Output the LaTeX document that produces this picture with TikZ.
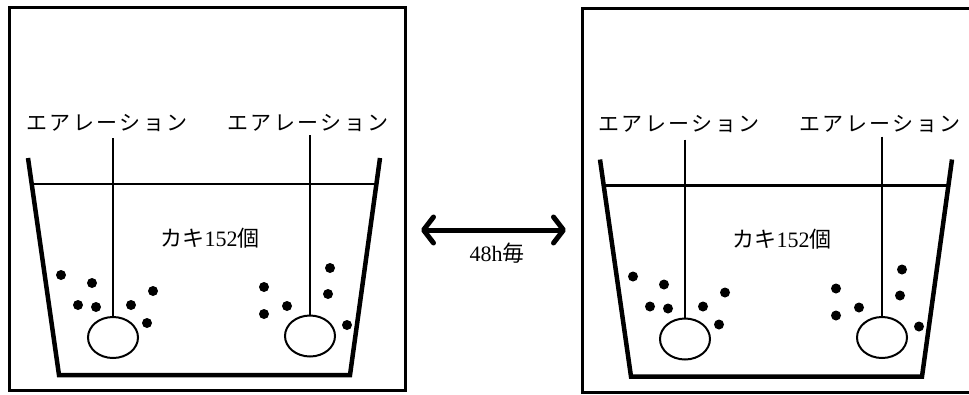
\documentclass[tikz,border=0pt]{standalone}
\usepackage{fontspec}
\setmainfont{Liberation Serif}
\newfontfamily\jp{Noto Sans CJK JP}
\newfontfamily\jpspaced[LetterSpace=12]{Noto Sans CJK JP}
\usetikzlibrary{arrows.meta,shapes.geometric}

\tikzset{
  frame/.style={line width=3pt},
  bucket/.style={line width=4.5pt, line join=miter},
  water/.style={line width=2.2pt},
  tube/.style={line width=2pt},
  stone/.style={draw, ellipse, line width=2pt, minimum width=50pt, minimum height=41pt, inner sep=0pt},
  bubble/.style={fill=black},
  tag/.style={font=\jpspaced\fontsize{21}{21}\selectfont, inner sep=0pt},
  count/.style={font=\fontsize{22}{22}\selectfont, inner sep=0pt},
  cycle/.style={line width=5pt, {Straight Barb[length=10pt,width=26pt,round]}-{Straight Barb[length=10pt,width=26pt,round]}},
}

% one tank: bucket, water level, two air stones with their tubes, oysters
\newcommand{\tank}{%
  \draw[bucket] (28,158) -- (59,375) -- (350,375) -- (380,158);
  \draw[water] (32,184) -- (376,184);
  \node[tag] (labL) at (107,123) {エアレーション};
  \node[tag] (labR) at (308,123) {エアレーション};
  \coordinate (tubeL) at (113,138);
  \coordinate (tubeR) at (310,135);
  \node[stone] (stoneL) at (113,337.5) {};
  \node[stone] (stoneR) at (310,336) {};
  \draw[tube] (tubeL) -- (stoneL.north);
  \draw[tube] (tubeR) -- (stoneR.north);
  \node[count] (oysters) at (210,238) {{\jp カキ}152{\jp 個}};
  \foreach \p in {(61,275),(92,283),(78,305),(96,307),(131,305),(153,291),(147,323),
                  (264,287),(330,268),(328,294),(287,306),(264,314),(347,325)}
    \fill[bubble] \p circle (5);
}

\begin{document}
\begin{tikzpicture}[x=1pt,y=-1pt]
  \useasboundingbox (0,0) rectangle (969,394);

  % left tank
  \draw[frame] (9.5,7) rectangle (405,390);
  \begin{scope}
    \tank
  \end{scope}

  % right tank (frame runs past the right edge)
  \draw[frame] (969,8.5) -- (582,8.5) -- (582,392) -- (969,392);
  \begin{scope}[xshift=572pt, yshift=-1.5pt]
    \tank
  \end{scope}

  % exchange every 48 h
  \coordinate (swapL) at (421,230);
  \coordinate (swapR) at (566,230);
  \draw[cycle] (swapL) -- (swapR);
  \node[count] (every) at (497,253) {48h{\jp 毎}};
\end{tikzpicture}
\end{document}
